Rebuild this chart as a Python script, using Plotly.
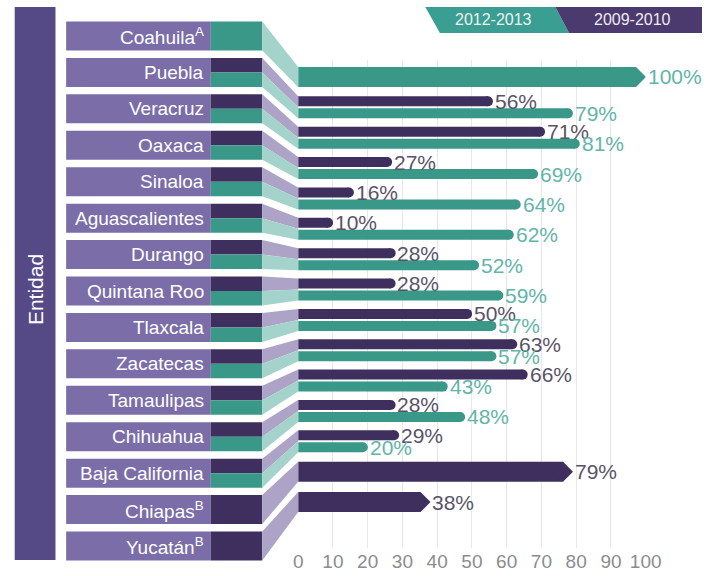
import plotly.graph_objects as go

# ---------------- data ----------------
entities = ["Coahuila<sup>A</sup>", "Puebla", "Veracruz", "Oaxaca", "Sinaloa",
            "Aguascalientes", "Durango", "Quintana Roo", "Tlaxcala", "Zacatecas",
            "Tamaulipas", "Chihuahua", "Baja California", "Chiapas<sup>B</sup>",
            "Yucatán<sup>B</sup>"]
v2009_2010 = [None, 56, 71, 27, 16, 10, 28, 28, 50, 63, 66, 28, 29, 79, 38]
v2012_2013 = [100, 79, 81, 69, 64, 62, 52, 59, 57, 57, 43, 48, 20, None, None]
x_ticks = [0, 10, 20, 30, 40, 50, 60, 70, 80, 90, 100]
series_names = ["2012-2013", "2009-2010"]
axis_title = "Entidad"

# ---------------- style / layout constants ----------------
W, H = 718, 576
BAR0, BARSTEP = 77.0, 30.36      # pixel centre of first bar group, spacing
LAB0, LABSTEP = 36.0, 36.43      # pixel centre of first label box, spacing
PLOT_TOP, PLOT_BOT = 60.0, 548.0
X0PX, X100PX = 302.0, 660.0
PX_PER_UNIT = (X100PX - X0PX) / 100.0

C_PURPLE = "#3f2f5e"
C_GREEN = "#3a9888"
C_BAND = "#564a86"
C_BOX = "#7a6da8"
C_RIB_P = "#aca3c6"
C_RIB_G = "#a3d3ca"
C_TXT_P = "#5a5368"
C_TXT_G = "#62b5a9"
FONT = "Liberation Sans"


def px(x):
    return x / W


def py(y):
    return 1 - y / H


def bar_px(i):
    return BAR0 + BARSTEP * i


def lab_px(i):
    return LAB0 + LABSTEP * i


fig = go.Figure()
annotations = []
shapes = []

# ---------------- bars ----------------
for name, vals, other, col, tcol, sign in [
        (series_names[1], v2009_2010, v2012_2013, C_PURPLE, C_TXT_P, -1),
        (series_names[0], v2012_2013, v2009_2010, C_GREEN, C_TXT_G, 1)]:
    bx, by, bw = [], [], []
    cx_c, cy_c = [], []
    cx_d, cy_d = [], []
    for i, v in enumerate(vals):
        if v is None:
            continue
        both = other[i] is not None
        if both:
            yy = i + sign * 6.0 / BARSTEP
            w = 10.0 / BARSTEP
            cap = 5.0 / PX_PER_UNIT
            cx_c.append(v - cap); cy_c.append(yy)
        else:
            yy = i
            w = 20.0 / BARSTEP
            cap = 9.75 / PX_PER_UNIT
            cx_d.append(v - cap); cy_d.append(yy)
        bx.append(v - cap); by.append(yy); bw.append(w)
        annotations.append(dict(x=v, y=yy, xref="x", yref="y", text=f"{v}%",
                                showarrow=False, xanchor="left", yanchor="middle",
                                xshift=0, font=dict(size=21, color=tcol, family=FONT)))
    fig.add_trace(go.Bar(x=bx, y=by, width=bw, orientation="h", name=name,
                         marker=dict(color=col, line=dict(width=0)),
                         hoverinfo="skip", showlegend=False))
    fig.add_trace(go.Scatter(x=cx_c, y=cy_c, mode="markers", hoverinfo="skip",
                             showlegend=False,
                             marker=dict(symbol="circle", size=10, color=col,
                                         line=dict(width=0))))
    fig.add_trace(go.Scatter(x=cx_d, y=cy_d, mode="markers", hoverinfo="skip",
                             showlegend=False,
                             marker=dict(symbol="diamond", size=15, color=col,
                                         line=dict(width=0))))

# ---------------- left panel ----------------
shapes.append(dict(type="rect", xref="paper", yref="paper",
                   x0=px(10), x1=px(52), y0=py(560), y1=py(7),
                   fillcolor=C_BAND, line=dict(width=0), layer="below"))
annotations.append(dict(x=px(31), y=py(290), xref="paper", yref="paper",
                        xanchor="center", yanchor="middle",
                        text=axis_title, textangle=-90, showarrow=False,
                        font=dict(size=21, color="white", family=FONT)))

BOX_L, BOX_SEG, BOX_R = 63.0, 212.0, 265.0
HALF_BOX = 14.5
for i, ent in enumerate(entities):
    c = lab_px(i)
    has_p = v2009_2010[i] is not None
    has_g = v2012_2013[i] is not None
    shapes.append(dict(type="rect", xref="paper", yref="paper",
                       x0=px(BOX_L), x1=px(BOX_SEG), y0=py(c + HALF_BOX), y1=py(c - HALF_BOX),
                       fillcolor=C_BOX, line=dict(width=0), layer="below"))
    if has_p and has_g:
        segs = [(c - HALF_BOX, c, C_PURPLE), (c, c + HALF_BOX, C_GREEN)]
    elif has_p:
        segs = [(c - HALF_BOX, c + HALF_BOX, C_PURPLE)]
    else:
        segs = [(c - HALF_BOX, c + HALF_BOX, C_GREEN)]
    for t, b, col in segs:
        shapes.append(dict(type="rect", xref="paper", yref="paper",
                           x0=px(BOX_SEG), x1=px(BOX_R), y0=py(b), y1=py(t),
                           fillcolor=col, line=dict(width=0), layer="below"))
    bc = bar_px(i)
    hb = 11.0 if (has_p and has_g) else 10.0
    if has_p and has_g:
        ribs = [((c - HALF_BOX, c), (bc - hb, bc), C_RIB_P),
                ((c, c + HALF_BOX), (bc, bc + hb), C_RIB_G)]
    elif has_p:
        ribs = [((c - HALF_BOX, c + HALF_BOX), (bc - hb, bc + hb), C_RIB_P)]
    else:
        ribs = [((c - HALF_BOX, c + HALF_BOX), (bc - hb, bc + hb), C_RIB_G)]
    for (lt, lb), (rt, rb), col in ribs:
        path = (f"M {px(BOX_R)},{py(lt)} L {px(X0PX)},{py(rt)} "
                f"L {px(X0PX)},{py(rb)} L {px(BOX_R)},{py(lb)} Z")
        shapes.append(dict(type="path", xref="paper", yref="paper", path=path,
                           fillcolor=col, line=dict(width=0), layer="below"))
    annotations.append(dict(x=px(BOX_SEG - 5), y=py(c), xref="paper", yref="paper",
                            text=ent, showarrow=False, xanchor="right",
                            yanchor="middle",
                            font=dict(size=19, color="white", family=FONT)))

# ---------------- legend (top right) ----------------
shapes.append(dict(type="path", xref="paper", yref="paper", layer="below",
                   path=f"M {px(433)},{py(7)} L {px(567)},{py(7)} L {px(581)},{py(33)} "
                        f"L {px(448)},{py(33)} Z",
                   fillcolor="#3a9e92", line=dict(width=0)))
shapes.append(dict(type="path", xref="paper", yref="paper", layer="below",
                   path=f"M {px(567)},{py(7)} L {px(718)},{py(7)} L {px(718)},{py(33)} "
                        f"L {px(581)},{py(33)} Z",
                   fillcolor="#4b3a6e", line=dict(width=0)))
annotations.append(dict(x=px(503), y=py(20), xref="paper", yref="paper",
                        xanchor="center", yanchor="middle",
                        text=series_names[0], showarrow=False,
                        font=dict(size=16, color="#eef2f1", family=FONT)))
annotations.append(dict(x=px(646), y=py(20), xref="paper", yref="paper",
                        xanchor="center", yanchor="middle",
                        text=series_names[1], showarrow=False,
                        font=dict(size=16, color="#eeeaf4", family=FONT)))

# ---------------- axes ----------------
y_bottom = (PLOT_BOT - BAR0) / BARSTEP
y_top = (PLOT_TOP - BAR0) / BARSTEP

fig.update_layout(
    autosize=True,
    margin=dict(l=0, r=0, t=0, b=0),
    paper_bgcolor="white", plot_bgcolor="rgba(0,0,0,0)",
    barmode="overlay",
    showlegend=False,
    shapes=shapes,
    annotations=annotations,
    xaxis=dict(domain=[px(X0PX), px(X100PX)], range=[0, 100],
               tickvals=x_ticks, ticktext=[str(t) for t in x_ticks],
               showgrid=True, gridcolor="#e8e8e8", gridwidth=1,
               zeroline=False, showline=False, ticks="",
               tickfont=dict(size=19, color="#8c8c8c", family=FONT),
               fixedrange=True),
    yaxis=dict(domain=[1 - PLOT_BOT / H, 1 - PLOT_TOP / H],
               range=[y_bottom, y_top], visible=False, fixedrange=True),
)

fig.write_html(
    "out.html",
    config={"displayModeBar": False, "staticPlot": True},
    default_width="100vw;position:fixed;left:0;top:0;margin:0",
    default_height="100vh",
    post_script="document.body.style.margin='0';document.body.style.overflow='hidden';",
)
